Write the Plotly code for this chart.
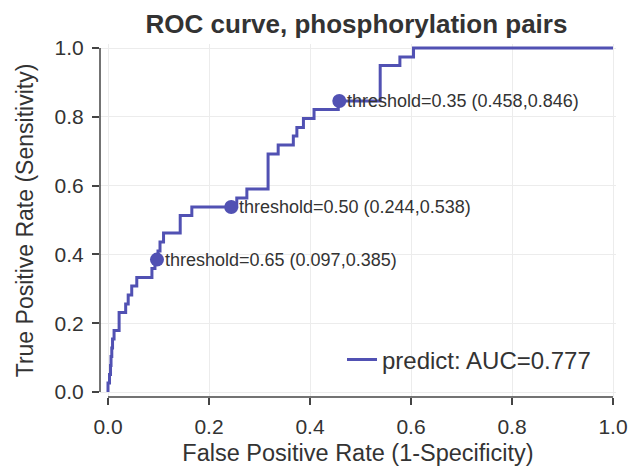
import plotly.graph_objects as go

# ROC staircase vertices (end of each horizontal run)
fpr = [0.0, 0.003, 0.005, 0.006, 0.0075, 0.009, 0.012, 0.022, 0.035, 0.040,
       0.047, 0.057, 0.087, 0.093, 0.099, 0.103, 0.110, 0.143, 0.166, 0.255,
       0.275, 0.317, 0.337, 0.367, 0.374, 0.387, 0.408, 0.456, 0.539, 0.578,
       0.605, 1.0]
tpr = [0.0, 0.026, 0.051, 0.077, 0.103, 0.128, 0.154, 0.179, 0.231, 0.256,
       0.282, 0.308, 0.333, 0.359, 0.385, 0.410, 0.436, 0.462, 0.513, 0.538,
       0.564, 0.590, 0.692, 0.718, 0.744, 0.769, 0.795, 0.821, 0.846, 0.949,
       0.974, 1.0]

thresholds = [0.65, 0.50, 0.35]
thr_fpr = [0.097, 0.244, 0.458]
thr_tpr = [0.385, 0.538, 0.846]

auc = 0.777
title = "ROC curve, phosphorylation pairs"
x_title = "False Positive Rate (1-Specificity)"
y_title = "True Positive Rate (Sensitivity)"
tick_vals = [0.0, 0.2, 0.4, 0.6, 0.8, 1.0]

LINE = "#5151b3"
TXT = "#333333"
AX = "#444444"
FONT = "Liberation Sans, Arial, Helvetica, sans-serif"

fig = go.Figure()
fig.add_trace(go.Scatter(
    x=fpr, y=tpr, mode="lines", line=dict(color=LINE, width=3, shape="vh"),
    name=f"predict: AUC={auc:.3f}", showlegend=True))
fig.add_trace(go.Scatter(
    x=thr_fpr, y=thr_tpr, mode="markers",
    marker=dict(color=LINE, size=14), showlegend=False, cliponaxis=False))

for t, fx, ty in zip(thresholds, thr_fpr, thr_tpr):
    fig.add_annotation(
        x=fx, y=ty, xref="x", yref="y",
        text=f"threshold={t:.2f} ({fx:.3f},{ty:.3f})",
        showarrow=False, xanchor="left", yanchor="middle", xshift=6,
        font=dict(family=FONT, size=18, color=TXT))

# despined, trimmed axis lines
fig.add_shape(type="line", xref="x", yref="paper", x0=0, x1=1, y0=0, y1=0,
              line=dict(color=AX, width=1.5))
fig.add_shape(type="line", xref="paper", yref="y", x0=0, x1=0, y0=0, y1=1,
              line=dict(color=AX, width=1.5))

fig.update_layout(
    width=631, height=469,
    margin=dict(l=100, r=15, t=44, b=72),
    paper_bgcolor="white", plot_bgcolor="white",
    font=dict(family=FONT, color=TXT),
    title=dict(text=f"<b>{title}</b>", x=(100 + 613) / 2 / 631, xanchor="center",
               y=1 - 24 / 469, yanchor="middle", yref="container",
               font=dict(size=26, color=TXT, family=FONT)),
    legend=dict(x=0.469, y=(397 - 360) / 353, xanchor="left", yanchor="middle",
                bgcolor="rgba(0,0,0,0)", font=dict(size=24, color=TXT, family=FONT)),
)
fig.update_xaxes(
    range=[-0.01584, 1.00594], tickvals=tick_vals, tickformat=".1f",
    showgrid=True, gridcolor="#ececec", gridwidth=1, zeroline=False, showline=False,
    ticks="outside", ticklen=7, tickwidth=1.5, tickcolor=AX, automargin=False,
    tickfont=dict(size=21, color=TXT), ticklabelstandoff=4,
    title=dict(text=x_title, font=dict(size=23.5, color=TXT), standoff=7))
fig.update_yaxes(
    range=[-0.0145, 1.0117], tickvals=tick_vals, tickformat=".1f",
    showgrid=True, gridcolor="#ececec", gridwidth=1, zeroline=False, showline=False,
    ticks="outside", ticklen=7, tickwidth=1.5, tickcolor=AX, automargin=False,
    tickfont=dict(size=21, color=TXT), ticklabelstandoff=4,
    title=dict(text=y_title, font=dict(size=23, color=TXT), standoff=14))

fig.write_html("out.html")
